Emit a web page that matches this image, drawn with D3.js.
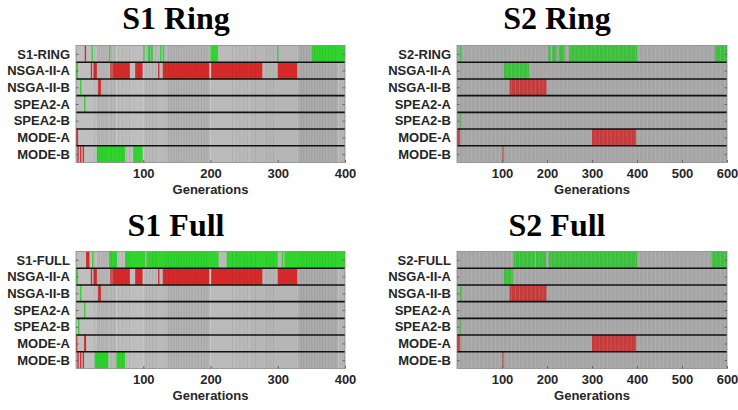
<!DOCTYPE html>
<html><head><meta charset="utf-8">
<script src="https://cdn.jsdelivr.net/npm/d3@7"></script>
<style>body{margin:0;background:#fff}</style></head>
<body><svg id="c" width="738" height="410"></svg>
<script>
// ---------- data ----------
const algorithms = ["NSGA-II-A","NSGA-II-B","SPEA2-A","SPEA2-B","MODE-A","MODE-B"];
const ticksS1 = [100,200,300,400];
const ticksS2 = [100,200,300,400,500,600];
// segments: [rowIndex, fromGeneration, toGeneration, "G" (green) | "R" (red)]
const segS1Ring = [
  [0,13,15,"R"],[0,23,25,"G"],[0,49,51,"G"],[0,100,102,"G"],[0,107,110,"G"],[0,111,114,"G"],
  [0,125,127,"G"],[0,129,131,"G"],[0,200,211,"G"],[0,299,301,"G"],[0,351,400,"G"],
  [1,0,3,"G"],[1,22,24,"R"],[1,26,31,"R"],[1,51,53,"R"],[1,54,80,"R"],[1,88,99,"R"],
  [1,122,124,"R"],[1,129,198,"R"],[1,201,277,"R"],[1,300,329,"R"],
  [2,6,8,"G"],[2,33,37,"R"],
  [3,12,14,"G"],
  [5,0,3,"R"],
  [6,2,4,"R"],[6,6,8,"R"],[6,10,12,"R"],[6,31,73,"G"],[6,85,99,"G"]
];
const segS1Full = [
  [0,15,20,"R"],[0,24,26,"G"],[0,49,61,"G"],[0,73,103,"G"],[0,105,212,"G"],[0,224,300,"G"],
  [0,306,308,"G"],[0,310,400,"G"],
  [1,0,3,"G"],[1,22,24,"R"],[1,26,31,"R"],[1,51,53,"R"],[1,54,80,"R"],[1,88,99,"R"],
  [1,122,124,"R"],[1,129,198,"R"],[1,201,277,"R"],[1,300,329,"R"],
  [2,6,8,"G"],[2,33,37,"R"],
  [3,12,14,"G"],
  [4,3,5,"G"],
  [5,0,2,"R"],[5,12,15,"R"],
  [6,2,4,"R"],[6,6,8,"R"],[6,10,12,"R"],[6,28,48,"G"],[6,60,73,"G"]
];
const segS2Ring = [
  [0,6,9,"G"],[0,203,208,"G"],[0,212,221,"G"],[0,226,239,"G"],[0,249,400,"G"],[0,573,600,"G"],
  [1,104,160,"G"],
  [2,117,199,"R"],
  [4,5,8,"G"],
  [5,0,7,"R"],[5,300,398,"R"],
  [6,101,103,"R"]
];
const segS2Full = [
  [0,126,173,"G"],[0,175,198,"G"],[0,204,400,"G"],[0,566,600,"G"],
  [1,104,124,"G"],
  [2,7,9,"G"],[2,117,199,"R"],
  [4,5,8,"G"],
  [5,0,7,"R"],[5,300,398,"R"],
  [6,101,103,"R"]
];
// background grey shading bands [from, to, grey]
const greyS1 = [[0,30,"#bfbfbf"],[30,60,"#b8b8b8"],[60,100,"#bebebe"],[100,135,"#bababa"],
  [135,200,"#b3b3b3"],[200,260,"#bababa"],[260,330,"#b6b6b6"],[330,390,"#acacac"],[390,400,"#b4b4b4"]];
const greyS2 = [[0,600,"#a5a5a5"]];
// column stripes (generations)
const darkStripesS1 = [27,31,34,38,41,45,52,57,63,68,74,79,104,109,113,118,133,137,141,145,149,152,156,160,
  164,168,172,177,181,186,190,194,232,238,243,249,254,260,266,283,288,293,334,338,342,346,350,354,358,362,366,370,375,380,385];
const lightStripesS2 = [4,14,22,31,40,49,58,66,75,85,93,102,111,120,129,138,146,155,164,173,182,190,199,208,
  217,226,235,244,252,261,270,279,288,297,306,315,324,333,341,350,359,368,377,386,395,404,413,422,431,440,
  449,458,467,476,485,494,503,512,521,530,539,548,557,566,575,584,593];

// ---------- drawing ----------
const svg = d3.select("#c");
const panels = [
  {title:"S1 Ring", first:"S1-RING", segs:segS1Ring, grey:greyS1, stripes:darkStripesS1, sCol:"#000", sOp:0.07, max:400, ticks:ticksS1, x0:76, x1:345, y0:45.5, y1:162.5, titleY:29, green:"#2fd42f", red:"#d62a2a", cx:176},
  {title:"S2 Ring", first:"S2-RING", segs:segS2Ring, grey:greyS2, stripes:lightStripesS2, sCol:"#fff", sOp:0.14, max:600, ticks:ticksS2, x0:457, x1:727, y0:45.5, y1:162.5, titleY:29, green:"#3cbf3c", red:"#c43b3b", cx:557},
  {title:"S1 Full", first:"S1-FULL", segs:segS1Full, grey:greyS1, stripes:darkStripesS1, sCol:"#000", sOp:0.07, max:400, ticks:ticksS1, x0:76, x1:345, y0:251.5, y1:368.5, titleY:236, green:"#2fd42f", red:"#d62a2a", cx:176},
  {title:"S2 Full", first:"S2-FULL", segs:segS2Full, grey:greyS2, stripes:lightStripesS2, sCol:"#fff", sOp:0.14, max:600, ticks:ticksS2, x0:457, x1:727, y0:251.5, y1:368.5, titleY:236, green:"#3cbf3c", red:"#c43b3b", cx:557}
];

const sans = "Liberation Sans, Arial, Helvetica, sans-serif";
panels.forEach(p => {
  const rows = [p.first, ...algorithms];
  const x = d3.scaleLinear().domain([0, p.max]).range([p.x0, p.x1]);
  const y = d3.scaleBand().domain(d3.range(rows.length)).range([p.y0, p.y1]);
  const g = svg.append("g");

  rows.forEach((r, i) => {
    g.selectAll(null).data(p.grey).enter().append("rect")
      .attr("x", d => x(d[0])).attr("width", d => x(d[1]) - x(d[0]))
      .attr("y", y(i)).attr("height", y.bandwidth())
      .attr("fill", d => d[2]);
  });
  g.selectAll(null).data(p.segs).enter().append("rect")
    .attr("x", d => x(d[1])).attr("width", d => Math.max(1.2, x(d[2]) - x(d[1])))
    .attr("y", d => y(d[0])).attr("height", y.bandwidth())
    .attr("fill", d => d[3] === "G" ? p.green : p.red);
  // column stripes
  g.selectAll(null).data(p.stripes).enter().append("rect")
    .attr("x", d => x(d)).attr("width", 0.9)
    .attr("y", p.y0).attr("height", p.y1 - p.y0)
    .attr("fill", p.sCol).attr("opacity", p.sOp);

  g.selectAll(null).data(d3.range(1, rows.length)).enter().append("line")
    .attr("x1", p.x0).attr("x2", p.x1)
    .attr("y1", d => y(d)).attr("y2", d => y(d))
    .attr("stroke", "#111").attr("stroke-width", 1.6);
  g.append("rect").attr("x", p.x0).attr("y", p.y0).attr("width", p.x1 - p.x0).attr("height", p.y1 - p.y0)
    .attr("fill", "none").attr("stroke", "#8a8a8a").attr("stroke-width", 0.8);

  const yp = d3.scalePoint().domain(rows).range([y(0) + y.bandwidth()/2, y(rows.length-1) + y.bandwidth()/2]);
  const ya = g.append("g").attr("transform", `translate(${p.x0},0)`)
    .call(d3.axisLeft(yp).tickSizeInner(-2.5).tickSizeOuter(0).tickPadding(6));
  ya.select(".domain").remove();
  ya.selectAll("line").attr("stroke", "#666");
  ya.selectAll("text").attr("font-family", sans)
    .attr("font-weight", "bold").attr("font-size", 13).attr("fill", "#262626");
  const yR = g.append("g").attr("transform", `translate(${p.x1},0)`)
    .call(d3.axisRight(yp).tickSize(-2.5).tickFormat(""));
  yR.select(".domain").remove();
  yR.selectAll("line").attr("stroke", "#666");

  const xa = g.append("g").attr("transform", `translate(0,${p.y1})`)
    .call(d3.axisBottom(x).tickValues(p.ticks).tickSizeInner(-2.5).tickSizeOuter(0).tickPadding(6));
  xa.select(".domain").remove();
  xa.selectAll("line").attr("stroke", "#666");
  xa.selectAll("text").attr("font-family", sans)
    .attr("font-weight", "bold").attr("font-size", 13).attr("fill", "#262626");

  g.append("text").attr("x", (p.x0 + p.x1)/2).attr("y", p.y1 + 31)
    .attr("text-anchor", "middle").attr("font-family", sans)
    .attr("font-weight", "bold").attr("font-size", 13).attr("fill", "#262626").text("Generations");

  g.append("text").attr("x", p.cx).attr("y", p.titleY)
    .attr("text-anchor", "middle").attr("font-family", "Liberation Serif, Times New Roman, serif")
    .attr("font-weight", "bold").attr("font-size", 32).attr("fill", "#000").text(p.title);
});
</script></body></html>
